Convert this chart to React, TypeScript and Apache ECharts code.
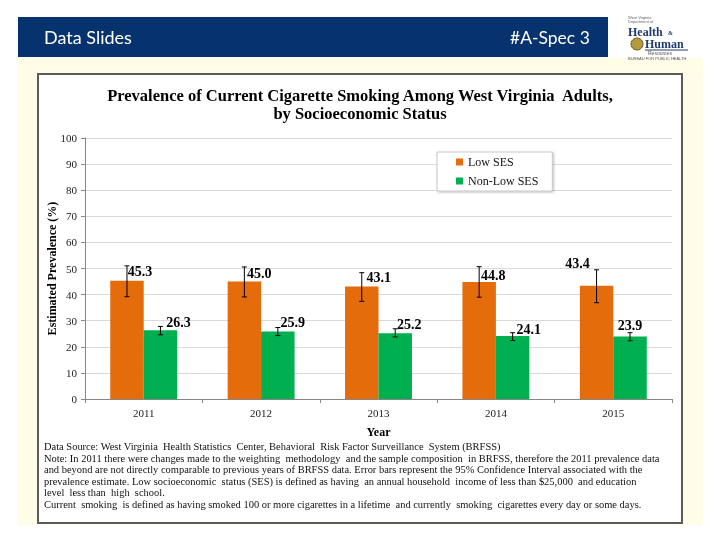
import React, { useEffect, useRef } from "react";
import * as echarts from "echarts";

const categories = ["2011", "2012", "2013", "2014", "2015"];
const lowSES = [45.3, 45.0, 43.1, 44.8, 43.4];
const lowSESLower = [39.2, 39.1, 37.4, 39.0, 36.9];
const lowSESUpper = [51.0, 50.6, 48.4, 50.7, 49.5];
const nonLowSES = [26.3, 25.9, 25.2, 24.1, 23.9];
const nonLowSESLower = [24.6, 24.3, 23.8, 22.4, 22.3];
const nonLowSESUpper = [27.8, 27.4, 26.9, 25.4, 25.4];
const seriesNames = ["Low SES", "Non-Low SES"];

const titleLines = [
  "Prevalence of Current Cigarette Smoking Among West Virginia  Adults,",
  "by Socioeconomic Status",
];
const noteLines = [
  "Data Source: West Virginia  Health Statistics  Center, Behavioral  Risk Factor Surveillance  System (BRFSS)",
  "Note: In 2011 there were changes made to the weighting  methodology  and the sample composition  in BRFSS, therefore the 2011 prevalence data",
  "and beyond are not directly comparable to previous years of BRFSS data. Error bars represent the 95% Confidence Interval associated with the",
  "prevalence estimate. Low socioeconomic  status (SES) is defined as having  an annual household  income of less than $25,000  and education",
  "level  less than  high  school.",
  "Current  smoking  is defined as having smoked 100 or more cigarettes in a lifetime  and currently  smoking  cigarettes every day or some days.",
];

// label nudges (style only)
const lowNudge = [[13, -2], [15, -1], [17, -2], [14, 0], [-19, -15]];
const nonLowNudge = [[18, -1], [15, -2], [14, -2], [16, 0], [0, -4]];

const ORANGE = "#E46C0A";
const GREEN = "#00B050";
const SERIF = "'Liberation Serif', 'Times New Roman', serif";
const BAR_FRAC = 0.285;

function errorSeries(lower: number[], upper: number[], side: number) {
  return {
    type: "custom",
    z: 5,
    silent: true,
    data: categories.map((_, i) => [i, lower[i], upper[i]]),
    encode: { x: 0, y: [1, 2] },
    renderItem: (params: any, api: any) => {
      const idx = api.value(0);
      const lo = api.coord([idx, api.value(1)]);
      const hi = api.coord([idx, api.value(2)]);
      const bw = api.size([1, 0])[0] * BAR_FRAC;
      const x = lo[0] + (side * bw) / 2;
      const cap = 2.5;
      const style = { stroke: "#000", lineWidth: 1 };
      return {
        type: "group",
        children: [
          { type: "line", shape: { x1: x, y1: lo[1], x2: x, y2: hi[1] }, style },
          { type: "line", shape: { x1: x - cap, y1: hi[1], x2: x + cap, y2: hi[1] }, style },
          { type: "line", shape: { x1: x - cap, y1: lo[1], x2: x + cap, y2: lo[1] }, style },
        ],
      };
    },
  };
}

function barSeries(name: string, values: number[], color: string, nudge: number[][]) {
  return {
    name,
    type: "bar",
    barWidth: BAR_FRAC * 100 + "%",
    barGap: "0%",
    itemStyle: { color },
    data: values.map((v, i) => ({
      value: v,
      label: { offset: nudge[i] },
    })),
    label: {
      show: true,
      position: "top",
      distance: 0,
      formatter: (p: any) => Number(p.value).toFixed(1),
      fontFamily: SERIF,
      fontWeight: "bold",
      fontSize: 14,
      color: "#000",
    },
  };
}

export default function App() {
  const ref = useRef<HTMLDivElement>(null);
  useEffect(() => {
    if (!ref.current) return;
    const chart = echarts.init(ref.current, null, { renderer: "svg" });
    const graphics: any[] = [
      { type: "rect", z: -10, shape: { x: 17, y: 58, width: 686, height: 467 }, style: { fill: "#FFFDE8" } },
      { type: "rect", z: -10, shape: { x: 18, y: 17, width: 590, height: 40 }, style: { fill: "#06326E" } },
      { type: "text", z: -5, x: 44, y: 37, style: { text: "Data Slides", font: "18px Lato, 'Open Sans', sans-serif", fill: "#fff", verticalAlign: "middle" } },
      { type: "text", z: -5, x: 510, y: 37, style: { text: "#A-Spec 3", font: "17.5px Lato, 'Open Sans', sans-serif", fill: "#fff", verticalAlign: "middle" } },
      { type: "rect", z: -9, shape: { x: 38, y: 74, width: 644, height: 449 }, style: { fill: "#fff", stroke: "#5b5b5b", lineWidth: 2 } },
      // logo
      { type: "text", x: 628, y: 17, style: { text: "West Virginia", font: "4px 'Liberation Sans'", fill: "#666", verticalAlign: "middle" } },
      { type: "text", x: 628, y: 21.5, style: { text: "Department of", font: "4px 'Liberation Sans'", fill: "#666", verticalAlign: "middle" } },
      { type: "text", x: 628, y: 31.5, style: { text: "Health", font: "bold 12px 'Liberation Serif'", fill: "#1F3A6E", verticalAlign: "middle" } },
      { type: "text", x: 668, y: 33, style: { text: "&", font: "bold 6px 'Liberation Serif'", fill: "#1F3A6E", verticalAlign: "middle" } },
      { type: "circle", shape: { cx: 637, cy: 44, r: 6 }, style: { fill: "#B49A3C", stroke: "#6B5A1E", lineWidth: 1 } },
      { type: "text", x: 645, y: 44, style: { text: "Human", font: "bold 12px 'Liberation Serif'", fill: "#1F3A6E", verticalAlign: "middle" } },
      { type: "line", shape: { x1: 645, y1: 50, x2: 688, y2: 50 }, style: { stroke: "#1F3A6E", lineWidth: 1 } },
      { type: "text", x: 648, y: 53, style: { text: "Resources", font: "5px 'Liberation Sans'", fill: "#555", verticalAlign: "middle" } },
      { type: "text", x: 628, y: 58, style: { text: "BUREAU FOR PUBLIC HEALTH", font: "4px 'Liberation Sans'", fill: "#555", verticalAlign: "middle" } },
      // title
      { type: "text", x: 360, y: 95, style: { text: titleLines[0], font: `bold 16.5px ${SERIF}`, fill: "#000", align: "center", verticalAlign: "middle" } },
      { type: "text", x: 360, y: 113, style: { text: titleLines[1], font: `bold 16.5px ${SERIF}`, fill: "#000", align: "center", verticalAlign: "middle" } },
      ...noteLines.map((t, i) => ({
        type: "text",
        x: 44,
        y: [446, 457.5, 469, 480.5, 492, 503.5][i],
        scaleX: 0.952,
        style: { text: t, font: `11px ${SERIF}`, fill: "#111", verticalAlign: "middle" },
      })),
    ];
    chart.setOption({
      animation: false,
      graphic: graphics,
      grid: { left: 85, right: 48, top: 138, bottom: 141, containLabel: false },
      legend: {
        data: seriesNames,
        orient: "vertical",
        left: 437,
        top: 152,
        itemWidth: 7,
        itemHeight: 7,
        itemGap: 7,
        padding: [4, 14, 4, 19],
        backgroundColor: "#fff",
        borderColor: "#c8c8c8",
        borderWidth: 1,
        shadowColor: "rgba(0,0,0,0.25)",
        shadowBlur: 2,
        shadowOffsetX: 1,
        shadowOffsetY: 1,
        textStyle: { fontFamily: SERIF, fontSize: 12, color: "#111" },
        icon: "rect",
      },
      xAxis: {
        type: "category",
        data: categories,
        name: "Year",
        nameLocation: "middle",
        nameGap: 27,
        nameTextStyle: { fontFamily: SERIF, fontWeight: "bold", fontSize: 12, color: "#000" },
        axisLine: { lineStyle: { color: "#868686" } },
        axisTick: { show: true, length: 4, lineStyle: { color: "#868686" } },
        axisLabel: { fontFamily: SERIF, fontSize: 11, color: "#222", margin: 8 },
      },
      yAxis: {
        type: "value",
        min: 0,
        max: 100,
        interval: 10,
        name: "Estimated Prevalence (%)",
        nameLocation: "middle",
        nameGap: 27,
        nameMoveOverlap: false,
        nameTextStyle: { fontFamily: SERIF, fontWeight: "bold", fontSize: 12, color: "#000" },
        axisLine: { show: true, lineStyle: { color: "#868686" } },
        axisTick: { show: true, length: 4, lineStyle: { color: "#868686" } },
        axisLabel: { fontFamily: SERIF, fontSize: 11, color: "#222", margin: 8 },
        splitLine: { lineStyle: { color: "#d9d9d9" } },
      },
      series: [
        barSeries(seriesNames[0], lowSES, ORANGE, lowNudge),
        barSeries(seriesNames[1], nonLowSES, GREEN, nonLowNudge),
        errorSeries(lowSESLower, lowSESUpper, -1),
        errorSeries(nonLowSESLower, nonLowSESUpper, 1),
      ],
    });
    return () => chart.dispose();
  }, []);
  return <div ref={ref} style={{ position: "fixed", left: 0, top: 0, width: 720, height: 540 }} />;
}
